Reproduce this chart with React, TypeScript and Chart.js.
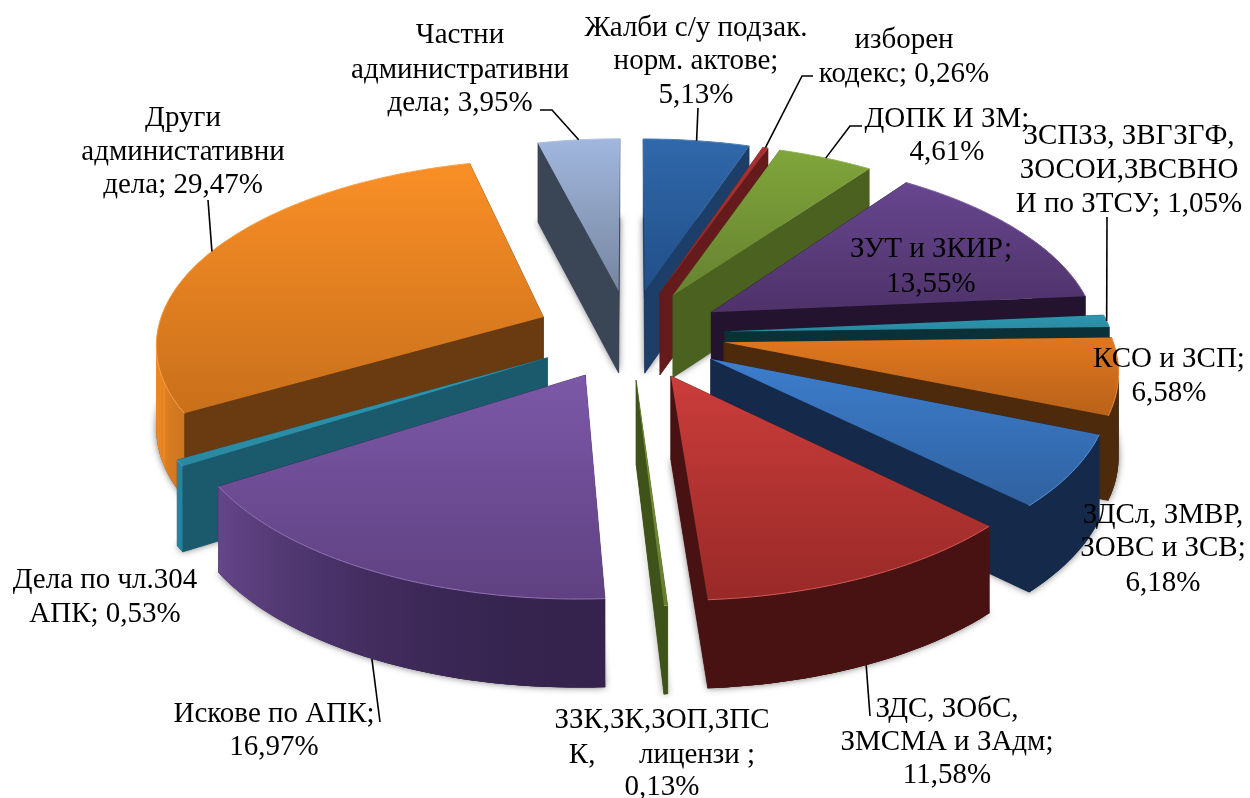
import React, { useEffect, useRef } from "react";
import { Chart, PieController, ArcElement } from "chart.js";

// ---------- data ----------
const categories = [
  "Жалби с/у подзак. норм. актове",
  "изборен кодекс",
  "ДОПК И ЗМ",
  "ЗУТ и ЗКИР",
  "ЗСПЗЗ, ЗВГЗГФ, ЗОСОИ,ЗВСВНО И по ЗТСУ",
  "КСО и ЗСП",
  "ЗДСл, ЗМВР, ЗОВС и ЗСВ",
  "ЗДС, ЗОбС, ЗМСМА и ЗАдм",
  "ЗЗК,ЗК,ЗОП,ЗПСК, лицензи",
  "Искове по АПК",
  "Дела по чл.304 АПК",
  "Други администативни дела",
  "Частни административни дела",
];
const shares = [5.13, 0.26, 4.61, 13.55, 1.05, 6.58, 6.18, 11.58, 0.13, 16.97, 0.53, 29.47, 3.95];

const labelLines = [
  ["Жалби с/у подзак.", "норм. актове;", "5,13%"],
  ["изборен", "кодекс; 0,26%"],
  ["ДОПК И ЗМ;", "4,61%"],
  ["ЗУТ и ЗКИР;", "13,55%"],
  ["ЗСПЗЗ, ЗВГЗГФ,", "ЗОСОИ,ЗВСВНО", "И по ЗТСУ; 1,05%"],
  ["КСО и ЗСП;", "6,58%"],
  ["ЗДСл, ЗМВР,", "ЗОВС и ЗСВ;", "6,18%"],
  ["ЗДС, ЗОбС,", "ЗМСМА и ЗАдм;", "11,58%"],
  ["ЗЗК,ЗК,ЗОП,ЗПС", "К,      лицензи ;", "0,13%"],
  ["Искове по АПК;", "16,97%"],
  ["Дела по чл.304", "АПК; 0,53%"],
  ["Други", "администативни", "дела; 29,47%"],
  ["Частни", "административни", "дела; 3,95%"],
];

// ---------- styles ----------
const topColors = ["#2f68ab", "#a93232", "#80a53a", "#67468f", "#2d96b0", "#e0771e", "#3d7dcd", "#cb3d3b", "#7a9a38", "#7c58a8", "#2b98b5", "#fa8f26", "#a1b7de"];
const lowColors = ["#224f88", "#8a2a2a", "#668230", "#4e3269", "#2a88a0", "#b8621a", "#2f62a0", "#982927", "#647f2d", "#5f4181", "#2a88a0", "#c9701b", "#76869f"];
const wallColors = ["#1c3e68", "#651a1b", "#4b611f", "#23132e", "#0a3038", "#4e2a0c", "#152a4a", "#481212", "#3f5219", "#35234e", "#1a5a6c", "#6a3a10", "#3a4556"];

// label layout: x centre of each label and baseline of every line
const labelBoxes = [
  { x: 696, ys: [36, 69, 103] },
  { x: 904, ys: [48, 82] },
  { x: 947, ys: [127, 160] },
  { x: 931, ys: [257, 292] },
  { x: 1129, ys: [144, 178, 212] },
  { x: 1169, ys: [367, 401] },
  { x: 1163, ys: [523, 556, 591] },
  { x: 947, ys: [717, 750, 783] },
  { x: 662, ys: [728, 763, 795] },
  { x: 274, ys: [722, 755] },
  { x: 105, ys: [588, 622] },
  { x: 183, ys: [126, 160, 193] },
  { x: 460, ys: [43, 78, 111] },
];
// leader line starts near the label; the other end sits on the slice's edge
const leaderStarts: (number[][] | null)[] = [
  [[698, 108]],
  [[813, 76], [802, 76]],
  [[862, 126], [850, 126]],
  null,
  [[1107, 217]],
  null,
  null,
  [[870, 716]],
  null,
  [[380, 722]],
  null,
  [[208, 200]],
  [[540, 110], [552, 110]],
];
const leaderOnWall = [false, false, false, false, false, false, false, true, false, true, false, false, false];

const FONT = '29px "Liberation Serif"';
const VIEW_DIST = 2940;
const TILT = 0.472;
const DEPTH = 83;

class Arc3D extends ArcElement {
  static id = "arc3d";
  static defaults = { lowColor: "#000", wallColor: "#000" };

  project(angle: number, r: number, h: number) {
    const { x, y, startAngle, endAngle, options } = this as any;
    const mid = (startAngle + endAngle) / 2;
    const off = options.offset || 0;
    const u = off * Math.cos(mid) + r * Math.cos(angle);
    const v = off * Math.sin(mid) + r * Math.sin(angle);
    const s = VIEW_DIST / (VIEW_DIST - v);
    return [x + u * s, y + v * TILT * s + h * (1 + (s - 1) * 0.35)];
  }

  edgePoint(onWall: boolean) {
    const { startAngle, endAngle, outerRadius } = this as any;
    return this.project((startAngle + endAngle) / 2, outerRadius, onWall ? DEPTH : 0);
  }

  draw(ctx: CanvasRenderingContext2D) {
    const { startAngle: a0, endAngle: a1, outerRadius: R, options: o } = this as any;
    const n = Math.max(2, Math.ceil((a1 - a0) / 0.02));
    const angles: number[] = [];
    for (let i = 0; i <= n; i++) angles.push(a0 + ((a1 - a0) * i) / n);
    const top = angles.map((a) => this.project(a, R, 0));
    const bot = angles.map((a) => this.project(a, R, DEPTH));
    const apexT = this.project(a0, 0, 0);
    const apexB = this.project(a0, 0, DEPTH);

    const poly = (pts: number[][]) => {
      ctx.beginPath();
      pts.forEach((p, i) => (i ? ctx.lineTo(p[0], p[1]) : ctx.moveTo(p[0], p[1])));
      ctx.closePath();
    };
    const hex = (c: string) => [1, 3, 5].map((i) => parseInt(c.slice(i, i + 2), 16));
    const mix = (c1: string, c2: string, t: number) => {
      const a = hex(c1), b = hex(c2);
      return `rgb(${a.map((v, i) => Math.round(v + (b[i] - v) * t)).join(",")})`;
    };

    ctx.save();
    // soft shadow below the solid
    ctx.shadowColor = "rgba(0,0,0,0.55)";
    ctx.shadowBlur = 7;
    ctx.fillStyle = o.wallColor;
    poly([apexB, ...bot]);
    ctx.fill();
    ctx.shadowColor = "transparent";
    ctx.shadowBlur = 0;

    // radial walls
    const walls = [
      [apexT, top[0], bot[0], apexB],
      [apexT, top[n], bot[n], apexB],
    ];
    walls.sort((p, q) => p[1][1] - q[1][1]);
    ctx.fillStyle = o.wallColor;
    ctx.strokeStyle = o.wallColor;
    ctx.lineWidth = 0.5;
    walls.forEach((w) => {
      poly(w);
      ctx.fill();
      ctx.stroke();
    });

    // outer curved wall, lit from the left: one smooth gradient over the facing part
    const facing = angles.map((a, i) => ({ a, i })).filter((e) => Math.sin(e.a) > -0.45);
    if (facing.length > 1) {
      const front = facing.filter((e) => Math.sin(e.a) > -0.05);
      const src = front.length > 1 ? front : facing;
      const xs = src.map((e) => top[e.i][0]);
      const xMin = Math.min(...xs);
      const xMax = Math.max(...xs);
      const grad = ctx.createLinearGradient(xMin, 0, Math.max(xMax, xMin + 1), 0);
      const every = Math.max(1, Math.floor(src.length / 14));
      const stops = src
        .filter((_, k) => k % every === 0 || k === src.length - 1)
        .map((e) => {
          const cw = e.a + Math.PI / 2;
          const t = Math.pow(Math.max(0, -Math.sin(cw)), 2);
          return { pos: (top[e.i][0] - xMin) / Math.max(xMax - xMin, 1), col: mix(o.wallColor, o.backgroundColor, t * 0.92) };
        })
        .sort((p, q) => p.pos - q.pos);
      stops.forEach((s) => grad.addColorStop(s.pos, s.col));
      ctx.fillStyle = grad;
      for (let k = 0; k < facing.length - 1; k++) {
        const i = facing[k].i;
        const j = facing[Math.min(k + 2, facing.length - 1)].i;
        poly([top[i], top[j], bot[j], bot[i]]);
        ctx.fill();
      }
    }

    // top face
    const ys = [...top.map((p) => p[1]), apexT[1]];
    const g = ctx.createLinearGradient(0, Math.min(...ys), 0, Math.max(...ys));
    g.addColorStop(0, o.backgroundColor);
    g.addColorStop(1, o.lowColor);
    ctx.fillStyle = g;
    poly([apexT, ...top]);
    ctx.fill();
    // pale rim on the rounded edge
    ctx.beginPath();
    top.forEach((p, i) => (i ? ctx.lineTo(p[0], p[1]) : ctx.moveTo(p[0], p[1])));
    ctx.strokeStyle = mix(o.backgroundColor, "#ffffff", 0.15);
    ctx.lineWidth = 1;
    ctx.stroke();
    ctx.restore();
  }
}

// painter's algorithm: far slices first
class Pie3DController extends PieController {
  static id = "pie3d";
  static defaults = { dataElementType: "arc3d" };

  draw() {
    const ctx = (this as any)._ctx;
    const area = this.chart.chartArea;
    const els = [...(this as any)._cachedMeta.data];
    const sinMid = (e: any) => Math.sin((e.startAngle + e.endAngle) / 2);
    els.sort((a, b) => sinMid(a) - sinMid(b));
    els.forEach((e) => e.draw(ctx, area));
  }
}

const labelPlugin = {
  id: "sliceLabels",
  afterDatasetsDraw(chart: any) {
    const ctx: CanvasRenderingContext2D = chart.ctx;
    const arcs = chart.getDatasetMeta(0).data;
    ctx.save();
    ctx.strokeStyle = "#000";
    ctx.lineWidth = 1.6;
    leaderStarts.forEach((starts, i) => {
      if (!starts) return;
      const end = arcs[i].edgePoint(leaderOnWall[i]);
      ctx.beginPath();
      starts.forEach((p, k) => (k ? ctx.lineTo(p[0], p[1]) : ctx.moveTo(p[0], p[1])));
      ctx.lineTo(end[0], end[1]);
      ctx.stroke();
    });
    ctx.font = FONT;
    ctx.fillStyle = "#000";
    ctx.textAlign = "center";
    ctx.textBaseline = "alphabetic";
    labelLines.forEach((lines, i) => {
      lines.forEach((t, k) => ctx.fillText(t, labelBoxes[i].x, labelBoxes[i].ys[k]));
    });
    ctx.restore();
  },
};

Chart.register(Arc3D, Pie3DController);

export default function App() {
  const ref = useRef<HTMLCanvasElement>(null);
  useEffect(() => {
    document.body.style.margin = "0";
    document.body.style.background = "#fff";
    const chart = new Chart(ref.current as HTMLCanvasElement, {
      type: "pie3d" as any,
      data: {
        labels: categories,
        datasets: [
          {
            data: shares,
            backgroundColor: topColors,
            lowColor: lowColors,
            wallColor: wallColors,
            borderWidth: 0,
            offset: 95,
            hoverOffset: 95,
            radius: 387,
          } as any,
        ],
      },
      options: {
        animation: false,
        responsive: false,
        maintainAspectRatio: false,
        devicePixelRatio: 1,
        layout: { padding: { left: 10, right: 0, top: 0, bottom: 130 } },
        events: [],
      } as any,
      plugins: [labelPlugin as any],
    });
    return () => chart.destroy();
  }, []);
  return <canvas ref={ref} width={1250} height={798} style={{ display: "block" }} />;
}
